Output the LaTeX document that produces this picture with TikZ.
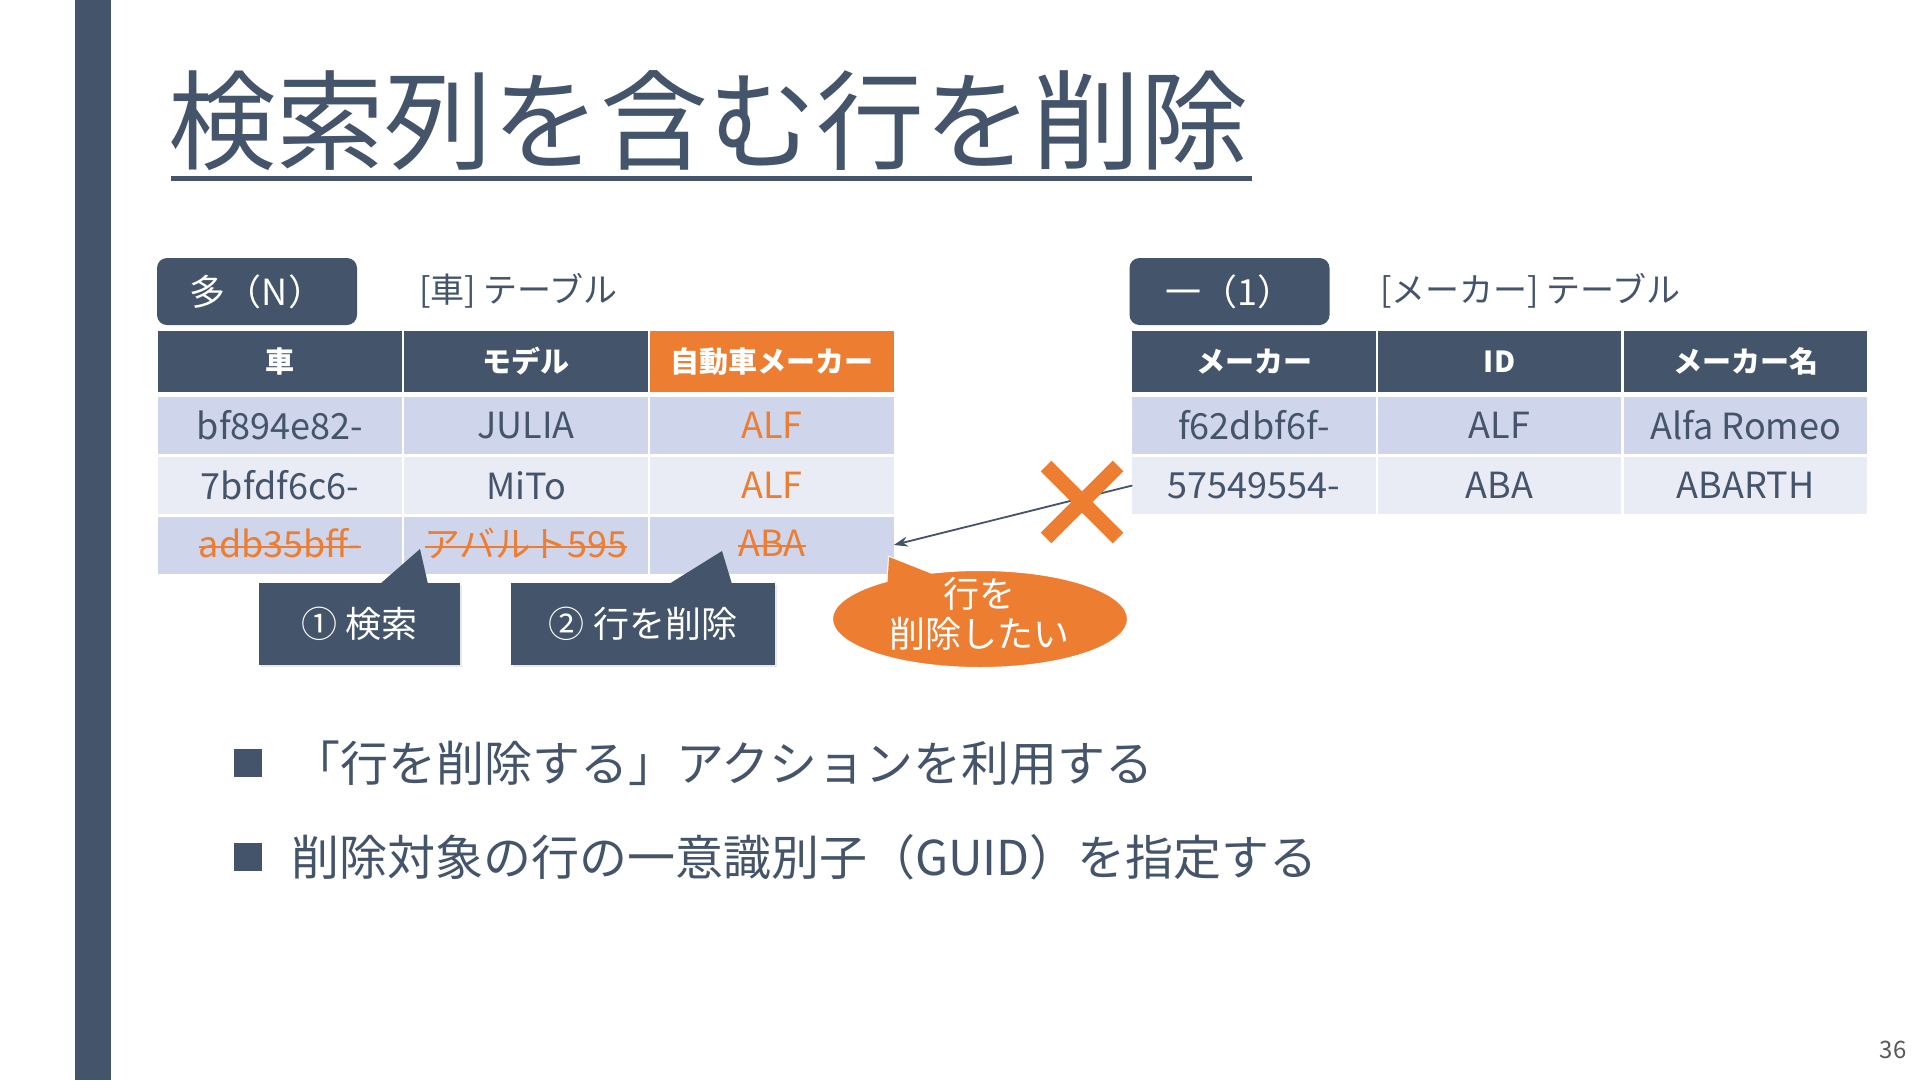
\documentclass[tikz,border=0pt]{standalone}
\usepackage{fontspec}
\setmainfont{Noto Sans CJK JP}
\usetikzlibrary{arrows.meta,shapes.geometric,shadows}
\definecolor{dk}{HTML}{44546A}
\definecolor{org}{HTML}{ED7D31}
\definecolor{rowA}{HTML}{CFD5EA}
\definecolor{rowB}{HTML}{E9EBF5}
\newcommand\myfs[1]{\fontsize{#1}{#1}\selectfont}
\tikzset{
  cell/.style={minimum width=243.5pt, minimum height=57pt, inner sep=0pt, outer sep=0pt, text=dk, font=\myfs{36}},
  headcell/.style={cell, minimum height=61pt, fill=dk, text=white, font=\myfs{29}\bfseries},
  tagbox/.style={rounded corners=10pt, fill=dk, text=white, minimum width=200pt, minimum height=67pt, inner sep=0pt, font=\myfs{36}},
  lbl/.style={anchor=west, inner sep=0pt, text=dk, font=\myfs{34}},
  callbox/.style={fill=dk, text=white, minimum height=82pt, inner sep=0pt, font=\myfs{36},
    drop shadow={opacity=0.18, shadow xshift=1.5pt, shadow yshift=-1.5pt}},
  strike/.style={draw=org, line width=2pt},
  bsq/.style={fill=dk, minimum size=28pt, inner sep=0pt},
  btxt/.style={anchor=west, inner sep=0pt, text=dk, font=\myfs{48}}
}
\begin{document}
\begin{tikzpicture}[x=1pt,y=-1pt]
\useasboundingbox[fill=white] (0,0) rectangle (1920,1080);
% left bar
\fill[dk] (75,0) rectangle (111,1080);
% title
\node[anchor=west, inner sep=0pt, text=dk, font=\myfs{108}] (title) at (168,121) {検索列を含む行を削除};
\draw[dk, line width=5pt] (171,178) -- (1252,178);

% tags and labels
\node[tagbox] (tagN) at (257,291.5) {多（N）};
\node[lbl] (lblL) at (419,291) {[車] テーブル};
\node[tagbox] (tag1) at (1229.5,291.5) {一（1）};
\node[lbl] (lblR) at (1380,291) {[メーカー] テーブル};

% left table
\node[headcell] (l01) at (280,361.5) {車};
\node[headcell] (l02) at (526,361.5) {モデル};
\node[headcell, fill=org] (l03) at (772,361.5) {自動車メーカー};
\node[cell, fill=rowA] (l11) at (280,425.5) {bf894e82-};
\node[cell, fill=rowA] (l12) at (526,425.5) {JULIA};
\node[cell, fill=rowA, text=org] (l13) at (772,425.5) {ALF};
\node[cell, fill=rowB] (l21) at (280,485.5) {7bfdf6c6-};
\node[cell, fill=rowB] (l22) at (526,485.5) {MiTo};
\node[cell, fill=rowB, text=org] (l23) at (772,485.5) {ALF};
\node[cell, fill=rowA] (l31) at (280,545) {};
\node[cell, fill=rowA] (l32) at (526,545) {};
\node[cell, fill=rowA] (l33) at (772,545) {};
\node[inner sep=0pt, text=org, font=\myfs{36}] (s1) at ([yshift=2pt]l31) {adb35bff-};
\node[inner sep=0pt, text=org, font=\myfs{36}] (s2) at ([yshift=2pt]l32) {アバルト595};
\node[inner sep=0pt, text=org, font=\myfs{36}] (s3) at ([yshift=2pt]l33) {ABA};
\foreach \s in {s1,s2,s3}{
  \draw[strike] ([yshift=10pt]\s.base west) -- ([yshift=10pt]\s.base east);
}

% right table
\node[headcell] (r01) at (1254,361.5) {メーカー};
\node[headcell] (r02) at (1499.5,361.5) {ID};
\node[headcell] (r03) at (1745.5,361.5) {メーカー名};
\node[cell, fill=rowA] (r11) at (1254,425.5) {f62dbf6f-};
\node[cell, fill=rowA] (r12) at (1499.5,425.5) {ALF};
\node[cell, fill=rowA] (r13) at (1745.5,425.5) {Alfa Romeo};
\node[cell, fill=rowB] (r21) at (1254,485.5) {57549554-};
\node[cell, fill=rowB] (r22) at (1499.5,485.5) {ABA};
\node[cell, fill=rowB] (r23) at (1745.5,485.5) {ABARTH};

% callouts
\node[callbox, minimum width=201pt] (c1) at (359.5,624) {① 検索};
\fill[dk] (380,584) -- (420,549) -- (428,584) -- cycle;
\node[callbox, minimum width=264pt] (c2) at (643,624) {② 行を削除};
\fill[dk] (669,584) -- (722,551) -- (732,584) -- cycle;

% bubble
\filldraw[fill=org, draw=white, line width=2pt] (889,557) -- (887,592) -- (932,574) -- cycle;
\node[ellipse, fill=org, draw=white, line width=2pt, minimum width=296pt, minimum height=98pt,
  inner sep=0pt] (bub) at (980,619) {};
\fill[org] (889,557) -- (887,592) -- (932,574) -- cycle;
\node[inner sep=0pt, text=white, align=center, font=\fontsize{36}{40}\selectfont] (bubtxt) at (979,614) {行を\\削除したい};

% arrow and cross
\draw[dk, line width=1.8pt, -{Stealth[length=14pt,width=10pt]}] (r21.west) -- (l33.east);
\coordinate (xc) at (1082,502);
\draw[org, line width=15pt] ([shift={(-36,-36)}]xc) -- ([shift={(36,36)}]xc)
                            ([shift={(-36,36)}]xc) -- ([shift={(36,-36)}]xc);

% bullets
\node[bsq] (b1) at (247.5,763) {};
\node[btxt] (t1) at (292,763) {「行を削除する」アクションを利用する};
\node[bsq] (b2) at (247.5,857) {};
\node[btxt] (t2) at (291,857) {削除対象の行の一意識別子（GUID）を指定する};

% page number
\node[inner sep=0pt, text=black!65, font=\myfs{24}] (pg) at (1893,1050) {36};
\end{tikzpicture}
\end{document}
